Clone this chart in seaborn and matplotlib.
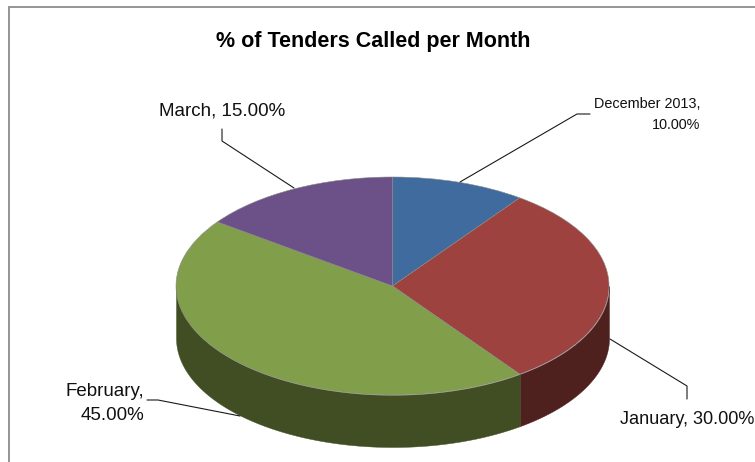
import numpy as np
import matplotlib
matplotlib.use("Agg")
import matplotlib.pyplot as plt
from matplotlib.lines import Line2D
from matplotlib.patches import Rectangle
import seaborn as sns

months = ["December 2013", "January", "February", "March"]
shares = [10.0, 30.0, 45.0, 15.0]
top_colors = ["#3F6B9E", "#9E4240", "#819E4B", "#6B5187"]
side_colors = ["#264060", "#4F211E", "#414E23", "#3F3050"]
title = "% of Tenders Called per Month"

W, H = 755, 462
sns.set_theme(style="white")
plt.rcParams["font.family"] = ["Liberation Sans", "DejaVu Sans"]

fig = plt.figure(figsize=(W / 100, H / 100), dpi=100, facecolor="white")

def fx(x):
    return x / W

def fy(y):
    return 1 - y / H

# chart frame
fig.add_artist(Rectangle((fx(9), fy(470)), fx(760) - fx(9), fy(6.5) - fy(470),
                         transform=fig.transFigure, fill=False,
                         edgecolor="#8C8C8C", linewidth=1.3))

# axes whose unit box is the top ellipse of the pie
L, R, T, B = 176, 609, 177, 395
ax = fig.add_axes([fx(L), fy(B), (R - L) / W, (B - T) / H])
wedges, _ = ax.pie(shares, colors=top_colors, startangle=90, counterclock=False,
                   radius=1, wedgeprops=dict(linewidth=0.4, edgecolor="#8a8a8a", clip_on=False, zorder=5))
ax.set_aspect("auto")
ax.set_xlim(-1, 1)
ax.set_ylim(-1, 1)
ax.axis("off")

# side wall, below the ellipse
depth = 52 / ((B - T) / 2)
edges = np.concatenate([[0], np.cumsum(shares)]) / 100 * 2 * np.pi
for start, end, c in zip(edges[:-1], edges[1:], side_colors):
    lo, hi = max(start, np.pi / 2), min(end, 3 * np.pi / 2)
    if hi <= lo:
        continue
    th = np.linspace(lo, hi, 200)
    ax.fill_between(np.sin(th), np.cos(th) - depth, np.cos(th), color=c,
                    linewidth=0.3, clip_on=False, zorder=2)

# title and data labels
fig.text(fx(373), fy(41.5), title, ha="center", va="center", fontsize=15.5,
         fontweight="bold", color="black")

def label(i, x, y, ha, size, sep=", ", spacing=1.2):
    fig.text(fx(x), fy(y), f"{months[i]}{sep}{shares[i]:.2f}%", ha=ha, va="center",
             fontsize=size, color="#111111", linespacing=spacing, multialignment="right")

label(0, 700, 114.5, "right", 10.4, ",\n", 1.65)
label(1, 754, 420, "right", 13.1)
label(2, 144, 403.5, "right", 13.5, ",\n", 1.6)
label(3, 222, 110.5, "center", 13.5)

def leader(points):
    xs, ys = zip(*points)
    fig.add_artist(Line2D([fx(x) for x in xs], [fy(y) for y in ys],
                          color="#1a1a1a", linewidth=0.8, transform=fig.transFigure, zorder=10))

leader([(590, 114), (577, 114), (460, 182)])
leader([(610, 339), (687, 386), (687, 399)])
leader([(147, 400), (158, 400), (240, 416)])
leader([(222, 129), (222, 141), (294, 188)])

fig.savefig("out.png", dpi=100)
